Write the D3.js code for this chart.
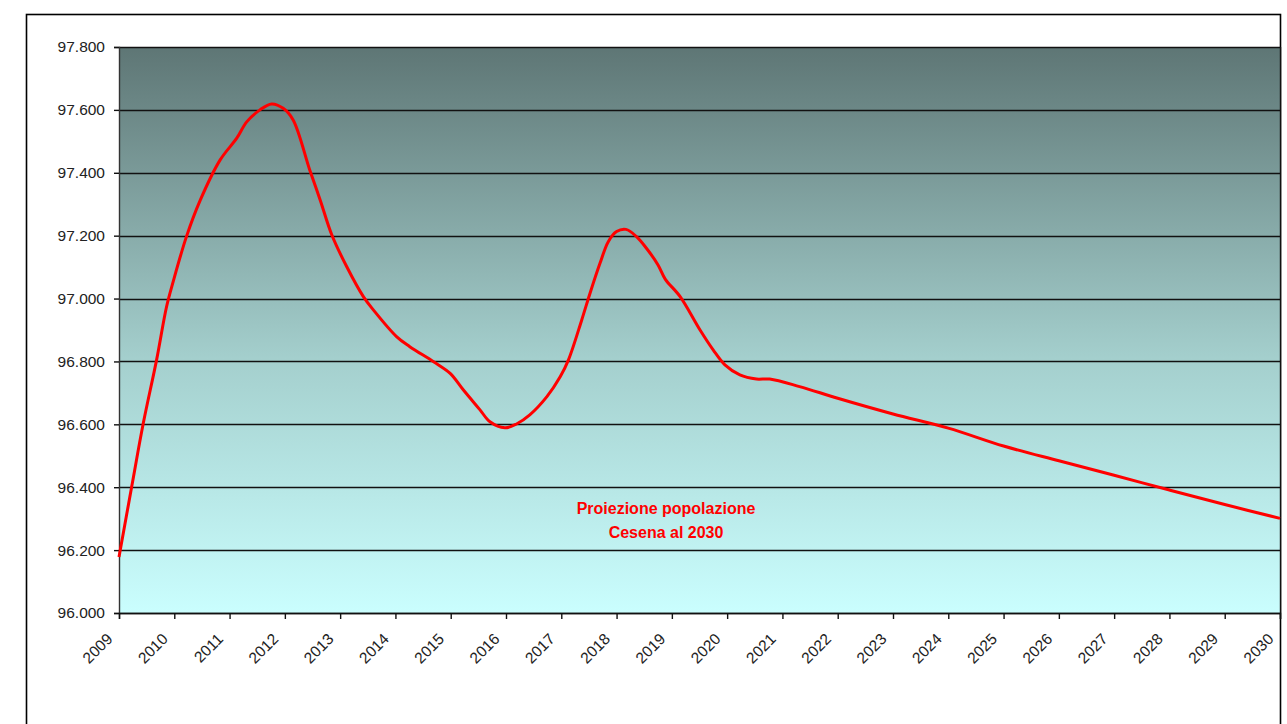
<!DOCTYPE html>
<html>
<head>
<meta charset="utf-8">
<script src="https://cdn.jsdelivr.net/npm/d3@7"></script>
<style>
  html, body { margin: 0; padding: 0; background: #fff; }
  svg { display: block; }
  text { font-family: "Liberation Sans", Arial, sans-serif; }
</style>
</head>
<body>
<svg id="chart" width="1287" height="724"></svg>
<script>
// ---- data ----
const yearLabels = ["2009","2010","2011","2012","2013","2014","2015","2016","2017","2018","2019",
  "2020","2021","2022","2023","2024","2025","2026","2027","2028","2029","2030"];
const yTicks = [96000, 96200, 96400, 96600, 96800, 97000, 97200, 97400, 97600, 97800];

const times = [2009.00, 2009.23, 2009.44, 2009.68, 2009.86, 2009.98, 2010.22, 2010.47, 2010.83,
  2011.13, 2011.31, 2011.55, 2011.76, 2011.97, 2012.15, 2012.45, 2012.64, 2012.85, 2013.12,
  2013.42, 2013.60, 2014.02, 2014.26, 2014.69, 2014.99, 2015.23, 2015.53, 2015.71, 2015.98,
  2016.19, 2016.43, 2016.74, 2016.98, 2017.13, 2017.37, 2017.52, 2017.70, 2017.85, 2018.00,
  2018.17, 2018.36, 2018.54, 2018.75, 2018.88, 2019.15, 2019.51, 2019.75, 2019.96, 2020.23,
  2020.53, 2020.77, 2021.31, 2022.00, 2023.00, 2024.00, 2025.00, 2026.00, 2027.00, 2028.00,
  2029.00, 2030.00];
const population = [96178, 96402, 96604, 96805, 96974, 97054, 97197, 97313, 97441,
  97510, 97562, 97600, 97619, 97605, 97568, 97409, 97313, 97202, 97101,
  97006, 96964, 96879, 96847, 96799, 96762, 96709, 96646, 96608, 96589,
  96601, 96630, 96688, 96751, 96805, 96932, 97017, 97112, 97181, 97213,
  97220, 97197, 97160, 97107, 97062, 97006, 96900, 96836, 96789, 96757,
  96744, 96744, 96720, 96683, 96633, 96588, 96531, 96484, 96438, 96391,
  96345, 96301];
const annotation = ["Proiezione popolazione", "Cesena al 2030"];

// ---- layout ----
const svg = d3.select("#chart");
const plot = { left: 119, right: 1280, top: 47, bottom: 613 };

const x = d3.scaleLinear().domain([2009, 2030]).range([plot.left, plot.right]);
const y = d3.scaleLinear().domain([96000, 97800]).range([plot.bottom, plot.top]);

// outer frame
svg.append("rect")
  .attr("x", 26.5).attr("y", 14.5)
  .attr("width", 1254).attr("height", 760)
  .attr("fill", "#fff").attr("stroke", "#000").attr("stroke-width", 1.6);

// gradient background
const defs = svg.append("defs");
const grad = defs.append("linearGradient").attr("id", "bg")
  .attr("x1", 0).attr("y1", 0).attr("x2", 0).attr("y2", 1);
grad.append("stop").attr("offset", "0%").attr("stop-color", "#5e7675");
grad.append("stop").attr("offset", "55%").attr("stop-color", "#a4cfcd");
grad.append("stop").attr("offset", "100%").attr("stop-color", "#cafefe");

svg.append("rect")
  .attr("x", plot.left).attr("y", plot.top)
  .attr("width", plot.right - plot.left).attr("height", plot.bottom - plot.top)
  .attr("fill", "url(#bg)");

// horizontal gridlines
svg.append("g").selectAll("line").data(yTicks).join("line")
  .attr("x1", plot.left).attr("x2", plot.right)
  .attr("y1", d => Math.round(y(d)) + 0.5).attr("y2", d => Math.round(y(d)) + 0.5)
  .attr("stroke", "#111").attr("stroke-width", 1.4);

// plot right border
svg.append("line")
  .attr("x1", plot.right + 0.5).attr("x2", plot.right + 0.5)
  .attr("y1", plot.top).attr("y2", plot.bottom)
  .attr("stroke", "#111").attr("stroke-width", 1.4);

// y axis
const yAxis = d3.axisLeft(y).tickValues(yTicks).tickSize(5).tickPadding(9)
  .tickFormat(d => d3.format(".3f")(d / 1000));
const gy = svg.append("g").attr("transform", `translate(${plot.left},0)`).call(yAxis);
gy.select(".domain").attr("stroke", "#333").attr("stroke-width", 1.4);
gy.selectAll(".tick line").attr("stroke", "#111").attr("stroke-width", 1.4);
gy.selectAll(".tick text").attr("font-size", 15.5).attr("fill", "#222")
  .attr("font-family", "Liberation Sans, Arial, sans-serif");

// x axis
const xTickVals = yearLabels.map(d => +d);
const xAxis = d3.axisBottom(x).tickValues(xTickVals).tickSize(6).tickFormat(d => String(d));
const gx = svg.append("g").attr("transform", `translate(0,${plot.bottom})`).call(xAxis);
gx.select(".domain").attr("stroke", "#111").attr("stroke-width", 1.4);
gx.selectAll(".tick line").attr("stroke", "#111").attr("stroke-width", 1.4);
gx.selectAll(".tick text")
  .attr("font-size", 15.5).attr("fill", "#222")
  .attr("font-family", "Liberation Sans, Arial, sans-serif")
  .attr("text-anchor", "end")
  .attr("x", 0).attr("y", 0).attr("dy", 0)
  .attr("transform", "translate(-6,27) rotate(-45)");

// line
const line = d3.line()
  .x((d, i) => x(times[i]))
  .y(d => y(d))
  .curve(d3.curveCatmullRom.alpha(0.5));
svg.append("path")
  .datum(population)
  .attr("d", line)
  .attr("fill", "none")
  .attr("stroke", "#ff0000")
  .attr("stroke-width", 3)
  .attr("stroke-linejoin", "round");

// annotation
svg.append("g").selectAll("text").data(annotation).join("text")
  .attr("x", 666)
  .attr("y", (d, i) => 514 + i * 24)
  .attr("text-anchor", "middle")
  .attr("font-size", 16)
  .attr("font-weight", "bold")
  .attr("fill", "#ff0000")
  .text(d => d);
</script>
</body>
</html>
